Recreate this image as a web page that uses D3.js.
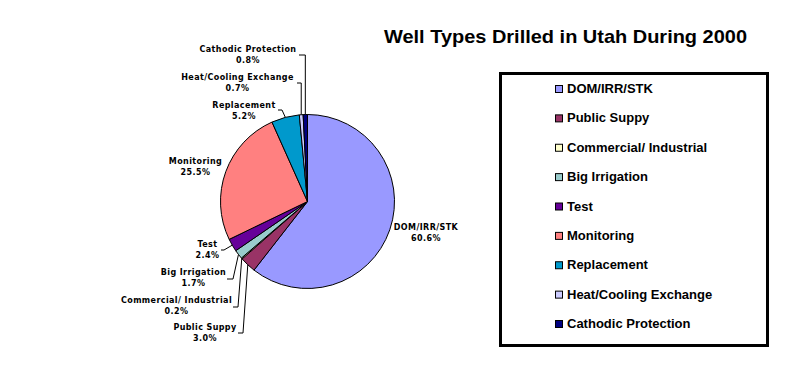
<!DOCTYPE html>
<html>
<head>
<meta charset="utf-8">
<script src="https://cdn.jsdelivr.net/npm/d3@7/dist/d3.min.js"></script>
<style>
  html, body { margin: 0; padding: 0; background: #fff; }
  svg { display: block; }
</style>
</head>
<body>
<svg id="chart" width="796" height="366"></svg>
<script>
// ---- data ----
const categories = ["DOM/IRR/STK", "Public Suppy", "Commercial/ Industrial", "Big Irrigation", "Test",
                    "Monitoring", "Replacement", "Heat/Cooling Exchange", "Cathodic Protection"];
const values = [60.6, 3.0, 0.2, 1.7, 2.4, 25.5, 5.2, 0.7, 0.8];
const percentLabels = ["60.6%", "3.0%", "0.2%", "1.7%", "2.4%", "25.5%", "5.2%", "0.7%", "0.8%"];
const colors = ["#9999FF", "#993366", "#FFFFCC", "#99CCCC", "#660099", "#FF8080", "#0099CC", "#CCCCFF", "#000080"];
const title = "Well Types Drilled in Utah During 2000";

// ---- layout (label placement, not data) ----
const labelLayout = [
  { cx: 426,   y: 230, leader: null },
  { cx: 205,   y: 330, leader: [[238, 333], [243, 333]] },
  { cx: 176.5, y: 303, leader: [[233, 307], [238, 307]] },
  { cx: 193.5, y: 275, leader: [[227, 279], [233, 279]] },
  { cx: 207.5, y: 247, leader: [[221, 250], [224, 250]] },
  { cx: 195.5, y: 164, leader: null },
  { cx: 244,   y: 107.5, leader: [[278, 110], [282, 110]] },
  { cx: 237.5, y: 80,  leader: [[297, 83], "v"] },
  { cx: 248,   y: 52,  leader: [[299, 55], "v"] }
];

const svg = d3.select("#chart");
const cx = 307.5, cy = 201.5, r = 87;

// title
svg.append("text")
  .attr("x", 565.5).attr("y", 43)
  .attr("text-anchor", "middle")
  .attr("textLength", 363)
  .attr("lengthAdjust", "spacingAndGlyphs")
  .style("font-family", "'Liberation Sans', Arial, sans-serif")
  .style("font-weight", "bold")
  .style("font-size", "19px")
  .text(title);

// pie
const pie = d3.pie().value(d => d).sort(null);
const arcs = pie(values);
const arc = d3.arc().innerRadius(0).outerRadius(r);
const edgeArc = d3.arc().innerRadius(r).outerRadius(r);

const g = svg.append("g").attr("transform", `translate(${cx},${cy})`);
g.selectAll("path.slice")
  .data(arcs)
  .join("path")
  .attr("class", "slice")
  .attr("d", arc)
  .attr("fill", (d, i) => colors[i])
  .attr("stroke", "#000")
  .attr("stroke-width", 1)
  .attr("stroke-linejoin", "round");

// leader lines
arcs.forEach((d, i) => {
  const L = labelLayout[i];
  if (!L.leader) return;
  const c = edgeArc.centroid(d);
  const end = [cx + c[0], cy + c[1]];
  const start = L.leader[0];
  const elbow = L.leader[1] === "v" ? [end[0], start[1]] : L.leader[1];
  svg.append("path")
    .attr("d", d3.line()([start, elbow, end]))
    .attr("fill", "none")
    .attr("stroke", "#000")
    .attr("stroke-width", 1);
});

// data labels
arcs.forEach((d, i) => {
  const L = labelLayout[i];
  const t = svg.append("text")
    .attr("text-anchor", "middle")
    .style("font-family", "'DejaVu Sans', Verdana, sans-serif")
    .style("font-weight", "bold")
    .style("font-size", "8px")
    .style("letter-spacing", "0.4px");
  t.append("tspan").attr("x", L.cx).attr("y", L.y).text(categories[i]);
  t.append("tspan").attr("x", L.cx).attr("y", L.y + 11).text(percentLabels[i]);
});

// legend
svg.append("rect")
  .attr("x", 500.5).attr("y", 73.5)
  .attr("width", 267).attr("height", 272)
  .attr("fill", "#fff").attr("stroke", "#000").attr("stroke-width", 3);

const legendY = d3.scalePoint().domain(categories).range([89, 324]);
const lg = svg.append("g");
categories.forEach((name, i) => {
  const y = legendY(name);
  lg.append("rect")
    .attr("x", 555.5).attr("y", y - 3.5)
    .attr("width", 7).attr("height", 7)
    .attr("fill", colors[i]).attr("stroke", "#000").attr("stroke-width", 1);
  lg.append("text")
    .attr("x", 567).attr("y", y + 4)
    .style("font-family", "'Liberation Sans', Arial, sans-serif")
    .style("font-weight", "bold")
    .style("font-size", "13px")
    .text(name);
});
</script>
</body>
</html>
